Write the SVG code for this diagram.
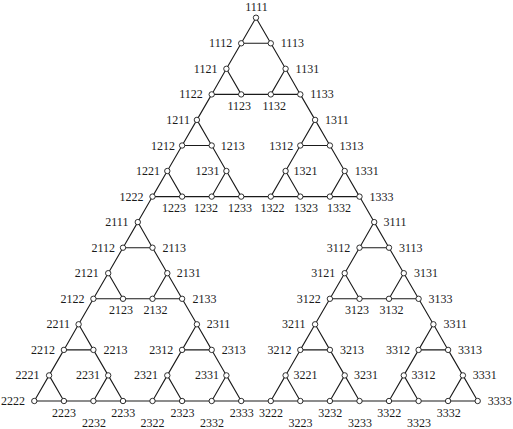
<svg xmlns="http://www.w3.org/2000/svg" width="513" height="429" viewBox="0 0 513 429">
<style>
line{stroke:#1a1a1a;stroke-width:1.1;stroke-linecap:round}
circle{fill:#fff;stroke:#1a1a1a;stroke-width:0.9}
text{font-family:'Liberation Serif','DejaVu Serif',serif;font-size:12px;fill:#1a1a1a}
.l{text-anchor:end}
.m{text-anchor:middle}
</style>
<rect width="513" height="429" fill="#fff"/>
<g id="connectors">
<line x1="256" y1="17.7" x2="241.2" y2="43.3"/><line x1="256" y1="17.7" x2="270.8" y2="43.3"/><line x1="241.2" y1="43.3" x2="270.8" y2="43.3"/>
<line x1="226.4" y1="68.8" x2="211.7" y2="94.4"/><line x1="226.4" y1="68.8" x2="241.2" y2="94.4"/><line x1="211.7" y1="94.4" x2="241.2" y2="94.4"/>
<line x1="285.6" y1="68.8" x2="270.8" y2="94.4"/><line x1="285.6" y1="68.8" x2="300.3" y2="94.4"/><line x1="270.8" y1="94.4" x2="300.3" y2="94.4"/>
<line x1="196.9" y1="119.9" x2="182.1" y2="145.5"/><line x1="196.9" y1="119.9" x2="211.7" y2="145.5"/><line x1="182.1" y1="145.5" x2="211.7" y2="145.5"/>
<line x1="167.3" y1="171" x2="152.5" y2="196.6"/><line x1="167.3" y1="171" x2="182.1" y2="196.6"/><line x1="152.5" y1="196.6" x2="182.1" y2="196.6"/>
<line x1="226.4" y1="171" x2="211.7" y2="196.6"/><line x1="226.4" y1="171" x2="241.2" y2="196.6"/><line x1="211.7" y1="196.6" x2="241.2" y2="196.6"/>
<line x1="315.1" y1="119.9" x2="300.3" y2="145.5"/><line x1="315.1" y1="119.9" x2="329.9" y2="145.5"/><line x1="300.3" y1="145.5" x2="329.9" y2="145.5"/>
<line x1="285.6" y1="171" x2="270.8" y2="196.6"/><line x1="285.6" y1="171" x2="300.3" y2="196.6"/><line x1="270.8" y1="196.6" x2="300.3" y2="196.6"/>
<line x1="344.7" y1="171" x2="329.9" y2="196.6"/><line x1="344.7" y1="171" x2="359.5" y2="196.6"/><line x1="329.9" y1="196.6" x2="359.5" y2="196.6"/>
<line x1="137.8" y1="222.1" x2="123" y2="247.7"/><line x1="137.8" y1="222.1" x2="152.5" y2="247.7"/><line x1="123" y1="247.7" x2="152.5" y2="247.7"/>
<line x1="108.2" y1="273.2" x2="93.4" y2="298.8"/><line x1="108.2" y1="273.2" x2="123" y2="298.8"/><line x1="93.4" y1="298.8" x2="123" y2="298.8"/>
<line x1="167.3" y1="273.2" x2="152.5" y2="298.8"/><line x1="167.3" y1="273.2" x2="182.1" y2="298.8"/><line x1="152.5" y1="298.8" x2="182.1" y2="298.8"/>
<line x1="78.6" y1="324.3" x2="63.9" y2="349.9"/><line x1="78.6" y1="324.3" x2="93.4" y2="349.9"/><line x1="63.9" y1="349.9" x2="93.4" y2="349.9"/>
<line x1="49.1" y1="375.4" x2="34.3" y2="401"/><line x1="49.1" y1="375.4" x2="63.9" y2="401"/><line x1="34.3" y1="401" x2="63.9" y2="401"/>
<line x1="108.2" y1="375.4" x2="93.4" y2="401"/><line x1="108.2" y1="375.4" x2="123" y2="401"/><line x1="93.4" y1="401" x2="123" y2="401"/>
<line x1="196.9" y1="324.3" x2="182.1" y2="349.9"/><line x1="196.9" y1="324.3" x2="211.7" y2="349.9"/><line x1="182.1" y1="349.9" x2="211.7" y2="349.9"/>
<line x1="167.3" y1="375.4" x2="152.5" y2="401"/><line x1="167.3" y1="375.4" x2="182.1" y2="401"/><line x1="152.5" y1="401" x2="182.1" y2="401"/>
<line x1="226.4" y1="375.4" x2="211.7" y2="401"/><line x1="226.4" y1="375.4" x2="241.2" y2="401"/><line x1="211.7" y1="401" x2="241.2" y2="401"/>
<line x1="374.2" y1="222.1" x2="359.5" y2="247.7"/><line x1="374.2" y1="222.1" x2="389" y2="247.7"/><line x1="359.5" y1="247.7" x2="389" y2="247.7"/>
<line x1="344.7" y1="273.2" x2="329.9" y2="298.8"/><line x1="344.7" y1="273.2" x2="359.5" y2="298.8"/><line x1="329.9" y1="298.8" x2="359.5" y2="298.8"/>
<line x1="403.8" y1="273.2" x2="389" y2="298.8"/><line x1="403.8" y1="273.2" x2="418.6" y2="298.8"/><line x1="389" y1="298.8" x2="418.6" y2="298.8"/>
<line x1="315.1" y1="324.3" x2="300.3" y2="349.9"/><line x1="315.1" y1="324.3" x2="329.9" y2="349.9"/><line x1="300.3" y1="349.9" x2="329.9" y2="349.9"/>
<line x1="285.6" y1="375.4" x2="270.8" y2="401"/><line x1="285.6" y1="375.4" x2="300.3" y2="401"/><line x1="270.8" y1="401" x2="300.3" y2="401"/>
<line x1="344.7" y1="375.4" x2="329.9" y2="401"/><line x1="344.7" y1="375.4" x2="359.5" y2="401"/><line x1="329.9" y1="401" x2="359.5" y2="401"/>
<line x1="433.4" y1="324.3" x2="418.6" y2="349.9"/><line x1="433.4" y1="324.3" x2="448.1" y2="349.9"/><line x1="418.6" y1="349.9" x2="448.1" y2="349.9"/>
<line x1="403.8" y1="375.4" x2="389" y2="401"/><line x1="403.8" y1="375.4" x2="418.6" y2="401"/><line x1="389" y1="401" x2="418.6" y2="401"/>
<line x1="462.9" y1="375.4" x2="448.1" y2="401"/><line x1="462.9" y1="375.4" x2="477.7" y2="401"/><line x1="448.1" y1="401" x2="477.7" y2="401"/>
<line x1="241.2" y1="43.3" x2="226.4" y2="68.8"/><line x1="270.8" y1="43.3" x2="285.6" y2="68.8"/><line x1="241.2" y1="94.4" x2="270.8" y2="94.4"/>
<line x1="182.1" y1="145.5" x2="167.3" y2="171"/><line x1="211.7" y1="145.5" x2="226.4" y2="171"/><line x1="182.1" y1="196.6" x2="211.7" y2="196.6"/>
<line x1="300.3" y1="145.5" x2="285.6" y2="171"/><line x1="329.9" y1="145.5" x2="344.7" y2="171"/><line x1="300.3" y1="196.6" x2="329.9" y2="196.6"/>
<line x1="123" y1="247.7" x2="108.2" y2="273.2"/><line x1="152.5" y1="247.7" x2="167.3" y2="273.2"/><line x1="123" y1="298.8" x2="152.5" y2="298.8"/>
<line x1="63.9" y1="349.9" x2="49.1" y2="375.4"/><line x1="93.4" y1="349.9" x2="108.2" y2="375.4"/><line x1="63.9" y1="401" x2="93.4" y2="401"/>
<line x1="182.1" y1="349.9" x2="167.3" y2="375.4"/><line x1="211.7" y1="349.9" x2="226.4" y2="375.4"/><line x1="182.1" y1="401" x2="211.7" y2="401"/>
<line x1="359.5" y1="247.7" x2="344.7" y2="273.2"/><line x1="389" y1="247.7" x2="403.8" y2="273.2"/><line x1="359.5" y1="298.8" x2="389" y2="298.8"/>
<line x1="300.3" y1="349.9" x2="285.6" y2="375.4"/><line x1="329.9" y1="349.9" x2="344.7" y2="375.4"/><line x1="300.3" y1="401" x2="329.9" y2="401"/>
<line x1="418.6" y1="349.9" x2="403.8" y2="375.4"/><line x1="448.1" y1="349.9" x2="462.9" y2="375.4"/><line x1="418.6" y1="401" x2="448.1" y2="401"/>
<line x1="211.7" y1="94.4" x2="196.9" y2="119.9"/><line x1="300.3" y1="94.4" x2="315.1" y2="119.9"/><line x1="241.2" y1="196.6" x2="270.8" y2="196.6"/>
<line x1="93.4" y1="298.8" x2="78.6" y2="324.3"/><line x1="182.1" y1="298.8" x2="196.9" y2="324.3"/><line x1="123" y1="401" x2="152.5" y2="401"/>
<line x1="329.9" y1="298.8" x2="315.1" y2="324.3"/><line x1="418.6" y1="298.8" x2="433.4" y2="324.3"/><line x1="359.5" y1="401" x2="389" y2="401"/>
<line x1="152.5" y1="196.6" x2="137.8" y2="222.1"/><line x1="359.5" y1="196.6" x2="374.2" y2="222.1"/><line x1="241.2" y1="401" x2="270.8" y2="401"/>
</g>
<g id="n1111"><circle cx="256" cy="17.7" r="2.7"/><text class="m" x="256.5" y="10.8">1111</text></g>
<g id="n1112"><circle cx="241.2" cy="43.3" r="2.7"/><text class="l" x="232.2" y="47.3">1112</text></g>
<g id="n1113"><circle cx="270.8" cy="43.3" r="2.7"/><text x="280.8" y="47.3">1113</text></g>
<g id="n1121"><circle cx="226.4" cy="68.8" r="2.7"/><text class="l" x="217.4" y="72.8">1121</text></g>
<g id="n1122"><circle cx="211.7" cy="94.4" r="2.7"/><text class="l" x="202.7" y="98.4">1122</text></g>
<g id="n1123"><circle cx="241.2" cy="94.4" r="2.7"/><text class="m" x="239.2" y="110">1123</text></g>
<g id="n1131"><circle cx="285.6" cy="68.8" r="2.7"/><text x="295.6" y="72.8">1131</text></g>
<g id="n1132"><circle cx="270.8" cy="94.4" r="2.7"/><text class="m" x="274.2" y="110">1132</text></g>
<g id="n1133"><circle cx="300.3" cy="94.4" r="2.7"/><text x="310.3" y="98.4">1133</text></g>
<g id="n1211"><circle cx="196.9" cy="119.9" r="2.7"/><text class="l" x="189.9" y="123.9">1211</text></g>
<g id="n1212"><circle cx="182.1" cy="145.5" r="2.7"/><text class="l" x="175.1" y="149.5">1212</text></g>
<g id="n1213"><circle cx="211.7" cy="145.5" r="2.7"/><text x="220.7" y="149.5">1213</text></g>
<g id="n1221"><circle cx="167.3" cy="171" r="2.7"/><text class="l" x="160" y="175">1221</text></g>
<g id="n1222"><circle cx="152.5" cy="196.6" r="2.7"/><text class="l" x="143.5" y="200.6">1222</text></g>
<g id="n1223"><circle cx="182.1" cy="196.6" r="2.7"/><text class="m" x="174" y="211.8">1223</text></g>
<g id="n1231"><circle cx="226.4" cy="171" r="2.7"/><text class="l" x="219.4" y="175">1231</text></g>
<g id="n1232"><circle cx="211.7" cy="196.6" r="2.7"/><text class="m" x="206" y="211.8">1232</text></g>
<g id="n1233"><circle cx="241.2" cy="196.6" r="2.7"/><text class="m" x="240" y="211.8">1233</text></g>
<g id="n1311"><circle cx="315.1" cy="119.9" r="2.7"/><text x="325.1" y="123.9">1311</text></g>
<g id="n1312"><circle cx="300.3" cy="145.5" r="2.7"/><text class="l" x="293.3" y="149.5">1312</text></g>
<g id="n1313"><circle cx="329.9" cy="145.5" r="2.7"/><text x="339.4" y="149.5">1313</text></g>
<g id="n1321"><circle cx="285.6" cy="171" r="2.7"/><text x="293.4" y="175">1321</text></g>
<g id="n1322"><circle cx="270.8" cy="196.6" r="2.7"/><text class="m" x="272.5" y="211.8">1322</text></g>
<g id="n1323"><circle cx="300.3" cy="196.6" r="2.7"/><text class="m" x="306" y="211.8">1323</text></g>
<g id="n1331"><circle cx="344.7" cy="171" r="2.7"/><text x="354.7" y="175">1331</text></g>
<g id="n1332"><circle cx="329.9" cy="196.6" r="2.7"/><text class="m" x="339" y="211.8">1332</text></g>
<g id="n1333"><circle cx="359.5" cy="196.6" r="2.7"/><text x="369.5" y="200.6">1333</text></g>
<g id="n2111"><circle cx="137.8" cy="222.1" r="2.7"/><text class="l" x="128.4" y="226.1">2111</text></g>
<g id="n2112"><circle cx="123" cy="247.7" r="2.7"/><text class="l" x="115" y="251.7">2112</text></g>
<g id="n2113"><circle cx="152.5" cy="247.7" r="2.7"/><text x="162.5" y="251.7">2113</text></g>
<g id="n2121"><circle cx="108.2" cy="273.2" r="2.7"/><text class="l" x="98.8" y="277.2">2121</text></g>
<g id="n2122"><circle cx="93.4" cy="298.8" r="2.7"/><text class="l" x="84.4" y="302.8">2122</text></g>
<g id="n2123"><circle cx="123" cy="298.8" r="2.7"/><text class="m" x="121" y="314.3">2123</text></g>
<g id="n2131"><circle cx="167.3" cy="273.2" r="2.7"/><text x="176.8" y="277.2">2131</text></g>
<g id="n2132"><circle cx="152.5" cy="298.8" r="2.7"/><text class="m" x="155.5" y="314.3">2132</text></g>
<g id="n2133"><circle cx="182.1" cy="298.8" r="2.7"/><text x="192.4" y="302.8">2133</text></g>
<g id="n2211"><circle cx="78.6" cy="324.3" r="2.7"/><text class="l" x="70" y="328.3">2211</text></g>
<g id="n2212"><circle cx="63.9" cy="349.9" r="2.7"/><text class="l" x="55" y="353.9">2212</text></g>
<g id="n2213"><circle cx="93.4" cy="349.9" r="2.7"/><text x="103.4" y="353.9">2213</text></g>
<g id="n2221"><circle cx="49.1" cy="375.4" r="2.7"/><text class="l" x="39.5" y="379.4">2221</text></g>
<g id="n2222"><circle cx="34.3" cy="401" r="2.7"/><text class="l" x="25" y="404.5">2222</text></g>
<g id="n2223"><circle cx="63.9" cy="401" r="2.7"/><text class="m" x="64" y="416.6">2223</text></g>
<g id="n2231"><circle cx="108.2" cy="375.4" r="2.7"/><text class="l" x="100" y="379.4">2231</text></g>
<g id="n2232"><circle cx="93.4" cy="401" r="2.7"/><text class="m" x="94" y="427.4">2232</text></g>
<g id="n2233"><circle cx="123" cy="401" r="2.7"/><text class="m" x="123.3" y="416.6">2233</text></g>
<g id="n2311"><circle cx="196.9" cy="324.3" r="2.7"/><text x="206.7" y="328.3">2311</text></g>
<g id="n2312"><circle cx="182.1" cy="349.9" r="2.7"/><text class="l" x="173.3" y="353.9">2312</text></g>
<g id="n2313"><circle cx="211.7" cy="349.9" r="2.7"/><text x="221.7" y="353.9">2313</text></g>
<g id="n2321"><circle cx="167.3" cy="375.4" r="2.7"/><text class="l" x="158" y="379.4">2321</text></g>
<g id="n2322"><circle cx="152.5" cy="401" r="2.7"/><text class="m" x="152.6" y="427.4">2322</text></g>
<g id="n2323"><circle cx="182.1" cy="401" r="2.7"/><text class="m" x="182.6" y="416.6">2323</text></g>
<g id="n2331"><circle cx="226.4" cy="375.4" r="2.7"/><text class="l" x="219" y="379.4">2331</text></g>
<g id="n2332"><circle cx="211.7" cy="401" r="2.7"/><text class="m" x="212" y="427.4">2332</text></g>
<g id="n2333"><circle cx="241.2" cy="401" r="2.7"/><text class="m" x="241.8" y="416.6">2333</text></g>
<g id="n3111"><circle cx="374.2" cy="222.1" r="2.7"/><text x="383.5" y="226.1">3111</text></g>
<g id="n3112"><circle cx="359.5" cy="247.7" r="2.7"/><text class="l" x="350.2" y="251.7">3112</text></g>
<g id="n3113"><circle cx="389" cy="247.7" r="2.7"/><text x="399" y="251.7">3113</text></g>
<g id="n3121"><circle cx="344.7" cy="273.2" r="2.7"/><text class="l" x="335.2" y="277.2">3121</text></g>
<g id="n3122"><circle cx="329.9" cy="298.8" r="2.7"/><text class="l" x="320.8" y="302.8">3122</text></g>
<g id="n3123"><circle cx="359.5" cy="298.8" r="2.7"/><text class="m" x="357" y="314.3">3123</text></g>
<g id="n3131"><circle cx="403.8" cy="273.2" r="2.7"/><text x="414" y="277.2">3131</text></g>
<g id="n3132"><circle cx="389" cy="298.8" r="2.7"/><text class="m" x="391.5" y="314.3">3132</text></g>
<g id="n3133"><circle cx="418.6" cy="298.8" r="2.7"/><text x="428.4" y="302.8">3133</text></g>
<g id="n3211"><circle cx="315.1" cy="324.3" r="2.7"/><text class="l" x="305.6" y="328.3">3211</text></g>
<g id="n3212"><circle cx="300.3" cy="349.9" r="2.7"/><text class="l" x="291.6" y="353.9">3212</text></g>
<g id="n3213"><circle cx="329.9" cy="349.9" r="2.7"/><text x="339.9" y="353.9">3213</text></g>
<g id="n3221"><circle cx="285.6" cy="375.4" r="2.7"/><text x="293.4" y="379.4">3221</text></g>
<g id="n3222"><circle cx="270.8" cy="401" r="2.7"/><text class="m" x="271" y="416.6">3222</text></g>
<g id="n3223"><circle cx="300.3" cy="401" r="2.7"/><text class="m" x="300.5" y="427.4">3223</text></g>
<g id="n3231"><circle cx="344.7" cy="375.4" r="2.7"/><text x="354" y="379.4">3231</text></g>
<g id="n3232"><circle cx="329.9" cy="401" r="2.7"/><text class="m" x="330.3" y="416.6">3232</text></g>
<g id="n3233"><circle cx="359.5" cy="401" r="2.7"/><text class="m" x="360" y="427.4">3233</text></g>
<g id="n3311"><circle cx="433.4" cy="324.3" r="2.7"/><text x="443.4" y="328.3">3311</text></g>
<g id="n3312"><circle cx="418.6" cy="349.9" r="2.7"/><text class="l" x="410" y="353.9">3312</text></g>
<g id="n3313"><circle cx="448.1" cy="349.9" r="2.7"/><text x="458.1" y="353.9">3313</text></g>
<g id="n3321"><circle cx="403.8" cy="375.4" r="2.7"/><text x="411.5" y="379.4">3312</text></g>
<g id="n3322"><circle cx="389" cy="401" r="2.7"/><text class="m" x="389.2" y="416.6">3322</text></g>
<g id="n3323"><circle cx="418.6" cy="401" r="2.7"/><text class="m" x="419" y="427.4">3323</text></g>
<g id="n3331"><circle cx="462.9" cy="375.4" r="2.7"/><text x="472.7" y="379.4">3331</text></g>
<g id="n3332"><circle cx="448.1" cy="401" r="2.7"/><text class="m" x="448.8" y="416.6">3332</text></g>
<g id="n3333"><circle cx="477.7" cy="401" r="2.7"/><text x="487.7" y="404.5">3333</text></g>
</svg>
